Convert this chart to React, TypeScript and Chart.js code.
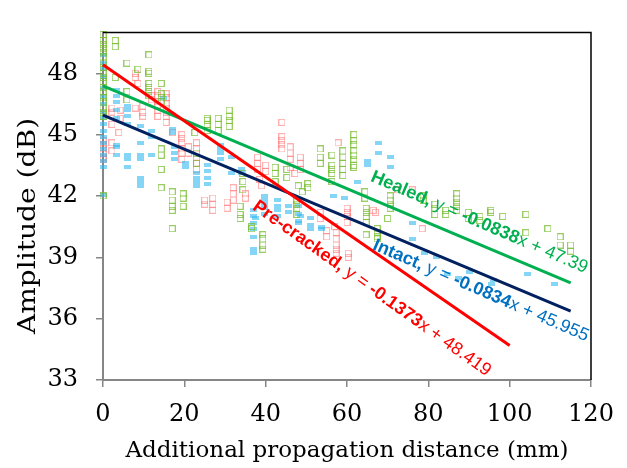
import React, { useEffect, useRef } from 'react';
import { Chart, registerables } from 'chart.js';

Chart.register(...registerables);

// ---------- axes ----------
const X_MIN = 0;
const X_MAX = 120;
const Y_MIN = 33;
const Y_MAX = 50;
const X_TICKS = [0, 20, 40, 60, 80, 100, 120];
const Y_TICKS = [33, 36, 39, 42, 45, 48];
const X_TITLE = 'Additional propagation distance (mm)';
const Y_TITLE = 'Amplitude (dB)';

// ---------- Healed (green hollow squares) ----------
const HEALED_X = [
  0, 0, 0, 0, 0, 0, 0, 0, 0, 0, 0, 0, 0, 0, 0, 0, 0, 0, 0,
  3, 3, 3, 5.9, 5.9, 5.9, 8.6,
  11.3, 11.3, 11.3, 11.3, 11.3, 11.3, 11.3,
  14.3, 14.3, 14.3, 14.3, 14.3, 14.3, 14.3, 14.3,
  17, 17, 17, 17, 17, 19.7, 19.7, 19.7,
  22.6, 23, 23, 25.6, 25.6, 25.6, 25.6, 28.3, 28.3, 28.3,
  31, 31, 31, 31, 33.7, 33.7, 33.7, 34.4, 34.4, 34.4,
  36.6, 36.6, 39.3, 39.3, 39.3, 39.3, 42.3, 42.3, 42.3, 45.2, 45.2,
  47.7, 47.7, 47.7, 47.7, 48, 50.4, 50.4, 49,
  53.4, 53.4, 53.4, 56.3, 56.3, 56.3, 56.3, 56.3,
  59, 59, 59, 59, 59,
  61.7, 61.7, 61.7, 61.7, 61.7, 61.7, 61.7, 61.7,
  64.4, 64.4, 64.7, 64.7, 64.7, 64.7, 64.7,
  67.4, 67.4, 67.4, 67.4, 70, 70.6, 70.6, 70.6, 70.6,
  78.7, 78.7, 81.6, 81.6, 81.6, 84.3, 84.3,
  87, 87, 87, 87, 87, 89.8, 89.8, 92.7, 92.7, 95.4, 95.4, 98.3,
  104, 104, 109.4, 112.4, 112.4, 115, 115,
];
const HEALED_Y = [
  49.9, 49.6, 49.4, 49.2, 49.0, 48.8, 48.5, 48.3, 48.0, 47.8, 47.6, 47.3, 47.1, 46.8, 46.6, 46.3, 46.1, 45.9, 42.0,
  49.6, 49.3, 47.8, 48.5, 47.1, 46.7, 48.2,
  48.9, 48.1, 48.0, 47.5, 47.3, 47.1, 46.9,
  47.5, 47.0, 46.8, 46.6, 44.3, 44.0, 43.3, 42.4,
  42.2, 41.8, 41.5, 41.3, 40.4, 42.1, 41.9, 41.5,
  45.1, 44.1, 43.6, 45.8, 45.7, 45.5, 45.2, 45.8, 45.5, 45.2,
  46.2, 45.9, 45.7, 45.4, 41.5, 41.1, 40.9, 43.1, 42.7, 42.3,
  40.5, 40.4, 40.1, 39.9, 39.6, 39.4, 43.4, 43.1, 42.7, 43.3, 42.9,
  41.8, 41.6, 41.4, 41.1, 42.5, 42.6, 42.4, 42.2,
  44.3, 43.9, 43.6, 44.0, 43.5, 43.3, 43.1, 42.7,
  44.2, 43.9, 43.6, 43.3, 43.0,
  45.0, 44.7, 44.5, 44.2, 44.0, 43.8, 43.5, 43.4,
  42.2, 41.9, 41.4, 41.2, 41.0, 40.7, 40.1,
  40.4, 40.2, 40.0, 39.9, 40.9, 42.0, 41.8, 41.6, 41.4,
  42.0, 41.8, 41.6, 41.4, 41.1, 41.3, 41.1,
  42.1, 41.9, 41.7, 41.5, 41.3, 41.2, 40.9, 41.0, 40.8, 41.3, 41.2, 41.0,
  41.1, 40.2, 40.4, 40.0, 39.6, 39.6, 39.3,
];

// ---------- Pre-cracked (red hollow squares) ----------
const PRE_X = [
  0, 0, 0, 0, 0, 0,
  2.2, 2.2, 2.2, 2.2, 2.2, 3.9, 4.2, 4.2,
  7.9, 7.9, 7.9, 8.6, 9.8, 9.8, 9.8, 12, 12,
  13.5, 13.5, 13.5, 13.5, 13.5, 13.5,
  15.5, 15.5, 15.5, 15.5, 15.5, 15.5, 15.5,
  17.2, 19.4, 19.4, 19.4, 19.4, 19.4, 19.4, 21, 21,
  23, 23, 23, 23, 23, 25, 25, 27, 27, 27, 30.5, 30.5,
  32, 32, 32, 35, 35, 38, 38, 38, 38.5, 39, 40, 40,
  44, 44, 44, 44, 44, 46, 46, 46, 46, 48.5, 48.5, 48.5, 47.2,
  53.4, 53.4, 55, 55, 57, 57.3, 57.3, 57.3, 57.3, 57.3, 57.8,
  60, 60, 60, 60, 60.3, 60.3, 66.4, 67, 72.5, 76, 78.5,
];
const PRE_Y = [
  44.7, 44.5, 44.3, 44.1, 43.9, 43.8,
  46.3, 46.1, 45.5, 44.6, 44.2, 45.1, 46.2, 45.8,
  48.0, 47.8, 46.3, 47.5, 46.4, 46.1, 45.9, 46.9, 46.7,
  47.1, 46.9, 46.6, 46.4, 46.2, 45.9,
  47.0, 46.8, 46.5, 46.3, 46.1, 45.9, 45.6,
  45.1, 45.0, 44.8, 44.6, 44.3, 44.1, 43.8, 44.4, 44.1,
  44.6, 44.3, 43.9, 43.6, 43.3, 41.8, 41.6, 41.9, 41.6, 41.3, 41.7, 41.4,
  42.4, 42.1, 41.8, 42.1, 41.9, 43.9, 43.6, 43.3, 42.8, 42.5, 43.5, 43.2,
  45.6, 44.9, 44.7, 44.5, 44.3, 44.4, 44.1, 43.8, 43.4, 43.9, 43.6, 43.3, 43.1,
  41.2, 40.9, 40.3, 40.0, 40.5, 40.2, 39.9, 39.6, 39.4, 39.2, 44.6,
  41.4, 41.2, 41.0, 40.7, 39.2, 39.0, 41.3, 41.2, 42.3, 42.3, 40.4,
];

// ---------- Intact (blue filled dashes) ----------
const INTACT_X = [
  0, 0, 0, 0, 0, 0, 0, 0, 0, 0, 0, 0, 0, 0, 0, 0, 0, 0,
  3.4, 3.4, 3.4, 3.4, 3.4, 3.4, 3.4, 3.4,
  6.1, 6.1, 6.1, 6.1, 6.1, 6.1, 6.1,
  9.1, 9.1, 9.1, 9.1, 9.1, 9.1, 9.1,
  12, 12, 12, 14.8, 17.2, 17.2, 17.5, 17.5, 17.5, 20.4, 20.4,
  23.1, 23.1, 23.1, 23.1, 25.8, 25.8, 25.8, 25.8,
  28.8, 28.8, 28.8, 28.8, 31.7, 31.7, 34, 34,
  36.9, 36.9, 36.9, 36.9, 36.9, 36.9, 36.9, 37.4,
  39.8, 39.8, 39.8, 39.8, 39.8, 42.8, 42.8, 42.8, 42.8,
  45.6, 45.6, 48, 48, 48, 48, 48.5, 51, 51, 51, 53.8, 53.8,
  56.6, 59.5, 62.5, 65, 65, 67.7, 67.7, 70.6, 70.6,
  76, 76, 79, 82, 84.8, 87.5, 90, 95.6, 96, 104.5, 111,
];
const INTACT_Y = [
  48.9, 48.5, 48.2, 47.8, 47.3, 46.9, 46.5, 46.1, 45.8, 45.5, 45.2, 44.9, 44.6, 44.3, 44.0, 43.7, 43.4, 42.05,
  47.2, 46.9, 46.6, 46.2, 45.8, 44.5, 44.4, 44.0,
  46.4, 46.2, 45.9, 45.5, 44.0, 43.8, 43.4,
  45.4, 44.6, 44.0, 43.8, 42.9, 42.7, 42.5,
  45.2, 44.9, 44.0, 46.8, 45.3, 45.1, 44.4, 44.1, 43.8, 43.6, 43.4,
  43.1, 42.9, 42.7, 42.5, 43.5, 43.2, 42.9, 42.6,
  44.5, 44.3, 44.1, 43.8, 43.9, 43.1, 43.3, 43.1,
  41.3, 41.0, 40.7, 40.4, 40.0, 39.4, 39.2, 40.9,
  42.0, 41.8, 41.6, 41.4, 41.1, 41.8, 41.5, 41.3, 41.0,
  41.5, 41.2, 41.5, 41.1, 40.8, 40.7, 41.0, 40.9, 40.6, 40.4, 40.5, 40.4,
  42.0, 41.9, 42.7, 43.7, 43.5, 44.6, 44.1, 43.9, 43.4,
  40.7, 39.9, 39.2, 39.0, 38.2, 38.0, 38.3, 37.7, 37.9, 38.2, 37.7,
];

// ---------- linear trend lines ----------
const TREND_NAMES = ['Pre-cracked', 'Intact', 'Healed'];
const TREND_SLOPES = [-0.1373, -0.0834, -0.0838];
const TREND_INTERCEPTS = [48.419, 45.955, 47.39];
const TREND_X_START = [0, 0, 0];
const TREND_X_END = [100, 115, 115];
const TREND_COLORS = ['#FF0000', '#002060', '#00B050'];
const LABEL_COLORS = ['#FF0000', '#0070C0', '#00B050'];

// label anchors (data coordinates) and rotation (deg)
const LABEL_X = [36.6, 66.1, 65.6];
const LABEL_Y = [41.37, 39.4, 42.75];
const LABEL_ROT = [35.6, 23.3, 23.3];

const AXIS_FONT = '"DejaVu Serif", serif';

function labelParts(i: number): [string, boolean][] {
  return [
    [TREND_NAMES[i] + ',', true],
    [' y = ', false],
    [TREND_SLOPES[i].toFixed(4), true],
    ['x + ' + String(TREND_INTERCEPTS[i]), false],
  ];
}

function makeHollow(color: string) {
  const c = document.createElement('canvas');
  c.width = 7;
  c.height = 7;
  const g = c.getContext('2d')!;
  g.strokeStyle = color;
  g.lineWidth = 1;
  g.strokeRect(0.5, 0.5, 6, 6);
  return c;
}

function makeDash(color: string) {
  const c = document.createElement('canvas');
  c.width = 7;
  c.height = 4;
  const g = c.getContext('2d')!;
  g.fillStyle = color;
  g.fillRect(0, 0, 7, 4);
  return c;
}

const overlayPlugin = {
  id: 'overlay',
  afterDatasetsDraw(chart: any) {
    const { ctx, chartArea, scales } = chart;
    const { left, right, top, bottom } = chartArea;
    ctx.save();
    ctx.strokeStyle = '#000000';
    ctx.lineWidth = 1.5;
    ctx.beginPath();
    ctx.moveTo(left, top);
    ctx.lineTo(right, top);
    ctx.lineTo(right, bottom);
    ctx.stroke();

    for (let i = 0; i < TREND_NAMES.length; i++) {
      const px = scales.x.getPixelForValue(LABEL_X[i]);
      const py = scales.y.getPixelForValue(LABEL_Y[i]);
      ctx.save();
      ctx.translate(px, py);
      ctx.rotate((LABEL_ROT[i] * Math.PI) / 180);
      ctx.fillStyle = LABEL_COLORS[i];
      ctx.textBaseline = 'alphabetic';
      ctx.textAlign = 'left';
      let cx = 0;
      for (const [t, b] of labelParts(i)) {
        ctx.font = `${b ? 'bold ' : ''}18px "Liberation Sans", Arial, sans-serif`;
        ctx.fillText(t, cx, 0);
        cx += ctx.measureText(t).width;
      }
      ctx.restore();
    }

    // y-axis title (wide setting, centred a little below the plot centre)
    ctx.save();
    ctx.translate(29, 226);
    ctx.rotate(-Math.PI / 2);
    ctx.scale(1.17, 1);
    ctx.fillStyle = '#000000';
    ctx.font = `24px ${AXIS_FONT}`;
    ctx.textAlign = 'center';
    ctx.textBaseline = 'middle';
    ctx.fillText(Y_TITLE, 0, 0);
    ctx.restore();

    ctx.restore();
  },
};

function zip(xs: number[], ys: number[]) {
  return xs.map((x, i) => ({ x, y: ys[i] }));
}

export default function App() {
  const ref = useRef<HTMLCanvasElement | null>(null);

  useEffect(() => {
    document.body.style.margin = '0';
    if (!ref.current) return;

    const trendSets = TREND_NAMES.map((name, i) => ({
      type: 'line' as const,
      label: name + ' trend',
      data: [TREND_X_START[i], TREND_X_END[i]].map((x) => ({
        x,
        y: TREND_SLOPES[i] * x + TREND_INTERCEPTS[i],
      })),
      borderColor: TREND_COLORS[i],
      borderWidth: 3,
      pointRadius: 0,
      showLine: true,
      fill: false,
      clip: false as any,
    }));

    const chart = new Chart(ref.current, {
      type: 'scatter',
      data: {
        datasets: [
          ...trendSets,
          {
            label: 'Healed',
            data: zip(HEALED_X, HEALED_Y),
            pointStyle: makeHollow('rgba(120,190,50,0.75)') as any,
            clip: false as any,
          },
          {
            label: 'Intact',
            data: zip(INTACT_X, INTACT_Y),
            pointStyle: makeDash('rgba(50,185,240,0.6)') as any,
            clip: false as any,
          },
          {
            label: 'Pre-cracked',
            data: zip(PRE_X, PRE_Y),
            pointStyle: makeHollow('rgba(255,110,110,0.55)') as any,
            clip: false as any,
          },
        ] as any,
      },
      options: {
        animation: false,
        responsive: false,
        devicePixelRatio: 1,
        layout: { padding: { top: 8, right: 36, bottom: 0, left: 0 } },
        plugins: {
          legend: { display: false },
          tooltip: { enabled: false },
        },
        scales: {
          x: {
            type: 'linear',
            min: X_MIN,
            max: X_MAX,
            afterBuildTicks: (s: any) => {
              s.ticks = X_TICKS.map((v) => ({ value: v }));
            },
            afterFit: (s: any) => {
              s.height = 88;
            },
            border: { display: true, color: '#868686', width: 2 },
            grid: {
              display: true,
              drawOnChartArea: false,
              drawTicks: true,
              tickLength: 7,
              color: '#868686',
              lineWidth: 1.5,
            },
            ticks: {
              color: '#000000',
              padding: 13,
              maxRotation: 0,
              font: { family: AXIS_FONT, size: 24 },
            },
            title: {
              display: true,
              text: X_TITLE,
              color: '#000000',
              font: { family: AXIS_FONT, size: 23 },
              padding: { top: 0, bottom: 3 },
            },
          },
          y: {
            type: 'linear',
            min: Y_MIN,
            max: Y_MAX,
            afterBuildTicks: (s: any) => {
              s.ticks = Y_TICKS.map((v) => ({ value: v }));
            },
            afterFit: (s: any) => {
              s.width = 103;
            },
            border: { display: true, color: '#868686', width: 2 },
            grid: {
              display: true,
              drawOnChartArea: false,
              drawTicks: true,
              tickLength: 7,
              color: '#868686',
              lineWidth: 1.5,
            },
            ticks: {
              color: '#000000',
              padding: 18,
              font: { family: AXIS_FONT, size: 24 },
            },
            title: { display: false },
          },
        },
      },
      plugins: [overlayPlugin],
    });

    return () => chart.destroy();
  }, []);

  return (
    <div style={{ width: 627, height: 468 }}>
      <canvas ref={ref} width={627} height={468} style={{ display: 'block', width: 627, height: 468 }} />
    </div>
  );
}
